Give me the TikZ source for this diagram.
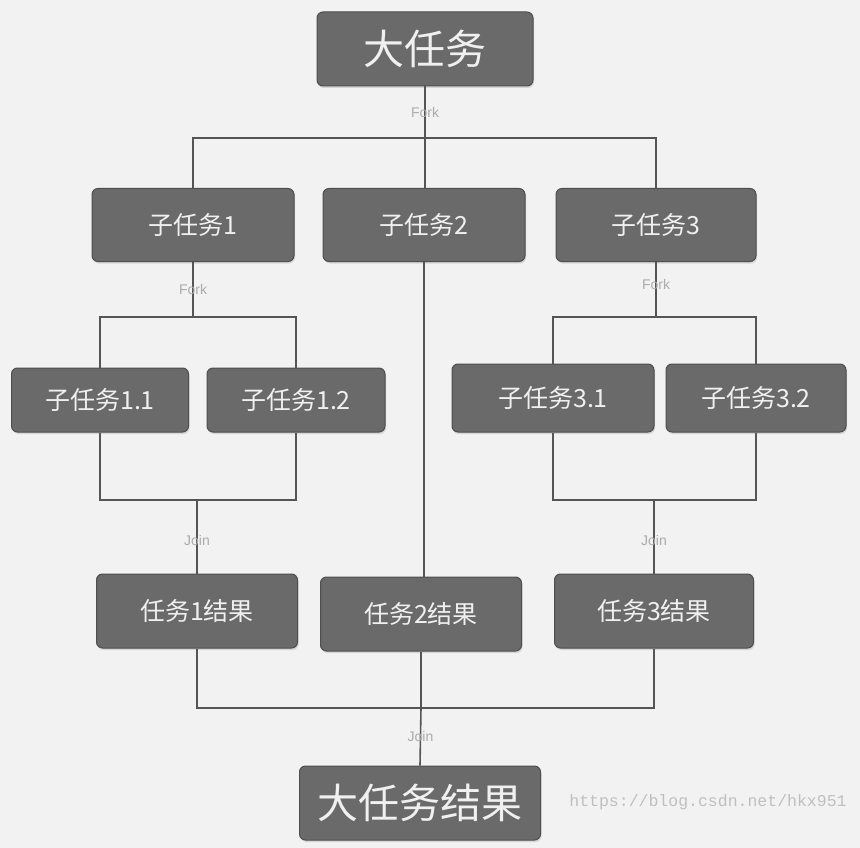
\documentclass[tikz,border=0pt]{standalone}
\usepackage{fontspec}
\setmainfont{Liberation Sans}
\setmonofont{Liberation Mono}
\newfontfamily\cjk{Noto Sans CJK SC}
\usepackage{xcolor}
\usepackage{tikz}
\usetikzlibrary{positioning,shadows}
\definecolor{TaskFill}{HTML}{6A6A6A}
\definecolor{TaskEdge}{HTML}{4E4E4E}
\definecolor{TaskText}{HTML}{F0F0F0}
\definecolor{LineDark}{HTML}{555555}
\definecolor{PageBg}{HTML}{F2F2F2}

\begin{document}
\begin{tikzpicture}[x=1pt,y=-1pt,
  task/.style={draw=TaskEdge,fill=TaskFill,rounded corners=6pt,line width=1pt,text=TaskText,inner sep=0pt,
    font=\cjk\fontsize{25}{25}\selectfont,drop shadow={opacity=0.25,shadow xshift=1pt,shadow yshift=-2pt}},
  bigtask/.style={task,font=\cjk\fontsize{41}{41}\selectfont},
  link/.style={draw=LineDark,line width=1.6pt},
  lbl/.style={font=\fontsize{14}{14}\selectfont,text=black!33,inner sep=1pt}]
\fill[PageBg] (0,0) rectangle (860,848);
% tasks
\node[bigtask,minimum width=216pt,minimum height=74pt] (big) at (425,49) {大任务};
\node[task,minimum width=202pt,minimum height=73pt] (sub1) at (193,225) {子任务1};
\node[task,minimum width=202pt,minimum height=73pt] (sub2) at (424,225) {子任务2};
\node[task,minimum width=200pt,minimum height=73pt] (sub3) at (656,225) {子任务3};
\node[task,minimum width=177pt,minimum height=64pt] (s11) at (100,400) {子任务1.1};
\node[task,minimum width=178pt,minimum height=64pt] (s12) at (296,400) {子任务1.2};
\node[task,minimum width=202pt,minimum height=68pt] (s31) at (553,398) {子任务3.1};
\node[task,minimum width=180pt,minimum height=68pt] (s32) at (756,398) {子任务3.2};
\node[task,minimum width=201pt,minimum height=74pt] (res1) at (197,611) {任务1结果};
\node[task,minimum width=201pt,minimum height=74pt] (res2) at (421,614) {任务2结果};
\node[task,minimum width=199pt,minimum height=74pt] (res3) at (654,611) {任务3结果};
\node[bigtask,minimum width=241pt,minimum height=74pt] (final) at (420,803) {大任务结果};
% fork / join points
\coordinate (f0) at (425,138);
\coordinate (f1) at (193,317);
\coordinate (f3) at (656,317);
\coordinate (j1) at (197,500);
\coordinate (j3) at (654,500);
\coordinate (j0) at (421,708);
% fork
\draw[link] (big.south) -- node[lbl]{Fork} (f0);
\draw[link] (f0) -| (sub1.north);
\draw[link] (f0) -| (sub3.north);
\draw[link] (f0) -- (f0 |- sub2.north);
\draw[link] (sub1.south) -- node[lbl]{Fork} (f1);
\draw[link] (f1) -| (s11.north);
\draw[link] (f1) -| (s12.north);
\draw[link] (sub3.south) -- node[lbl,pos=0.4]{Fork} (f3);
\draw[link] (f3) -| (s31.north);
\draw[link] (f3) -| (s32.north);
\draw[link] (sub2.south) -- (sub2.south |- res2.north);
% join
\draw[link] (s11.south) |- (j1);
\draw[link] (s12.south) |- (j1);
\draw[link] (j1) -- node[lbl,pos=0.55]{Join} (res1.north);
\draw[link] (s31.south) |- (j3);
\draw[link] (s32.south) |- (j3);
\draw[link] (j3) -- node[lbl,pos=0.55]{Join} (res3.north);
\draw[link] (res1.south) |- (j0);
\draw[link] (res3.south) |- (j0);
\draw[link] (res2.south) -- (j0);
\draw[link] (j0) -- node[lbl]{Join} (final.north);
\node[font=\ttfamily\fontsize{16.5}{16.5}\selectfont,text=black!25] (mark) at (708,802) {https://blog.csdn.net/hkx951};
\end{tikzpicture}
\end{document}
